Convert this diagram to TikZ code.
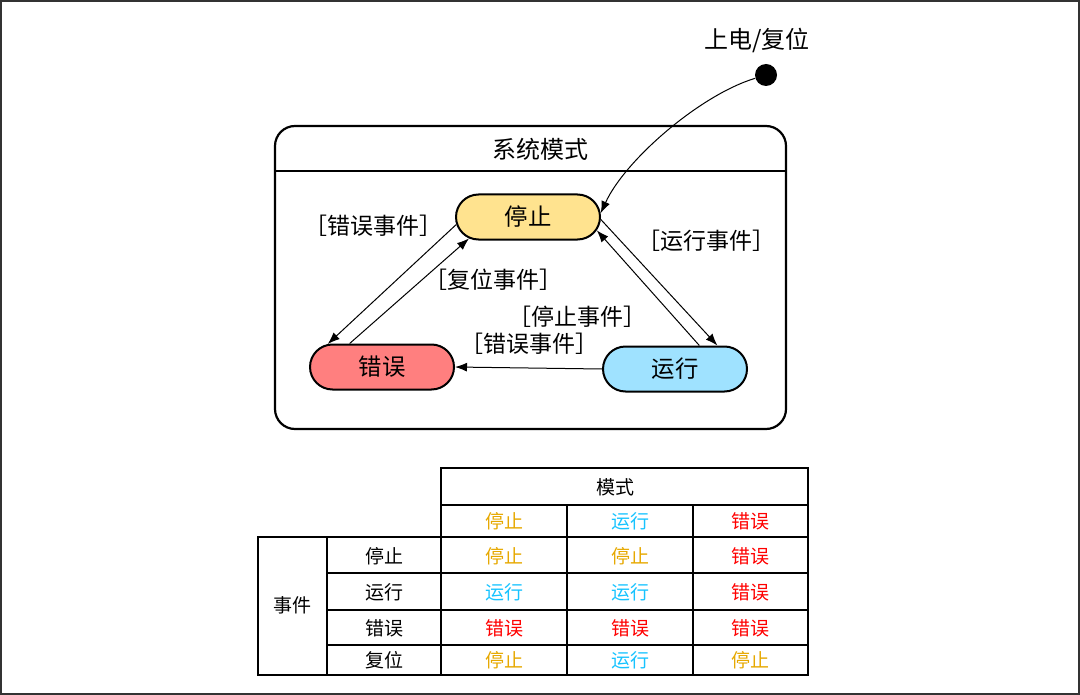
\documentclass[tikz,border=0pt]{standalone}
\usepackage{fontspec}
\setmainfont{Noto Sans CJK SC}
\usetikzlibrary{arrows.meta,shapes.misc}
\definecolor{stopfill}{HTML}{FFE38F}
\definecolor{errfill}{HTML}{FF7F7F}
\definecolor{runfill}{HTML}{9FE2FF}
\definecolor{stoptxt}{HTML}{E6A800}
\definecolor{runtxt}{HTML}{17C3FF}
\definecolor{errtxt}{HTML}{FF0000}
\tikzset{
  statenode/.style={rounded rectangle, draw, line width=1pt, minimum width=72pt,
    minimum height=22.5pt, inner sep=0pt, font=\fontsize{11.7}{13}\selectfont},
  evlabel/.style={inner sep=0pt, font=\fontsize{11.5}{13}\selectfont},
  cell/.style={inner sep=0pt, font=\fontsize{9.5}{11}\selectfont},
  trans/.style={-{Latex[length=6pt,width=4.5pt]}, line width=0.5pt},
  grid/.style={line width=1pt, line cap=rect},
}

\begin{document}
\begin{tikzpicture}[x=0.5pt,y=-0.5pt]
			\useasboundingbox (0,0) rectangle (1080,695);
			\draw[line width=1pt, black!80] (1,1) rectangle (1079,694);
			\draw[line width=1.1pt, rounded corners=10pt] (275,126) rectangle (786,429);
			\draw[line width=1.1pt] (275,171) -- (786,171);
			\node[font=\fontsize{12}{14}\selectfont] (title) at (540,149) {系统模式};
			\node[statenode, fill=stopfill] (stop) at (528,217) {停止};
			\node[statenode, fill=errfill] (err) at (382,367) {错误};
			\node[statenode, fill=runfill] (run) at (675,369) {运行};
			\node[circle, fill, minimum size=11pt, inner sep=0pt] (init) at (766,75) {};
			\node[font=\fontsize{12}{14}\selectfont] (initlabel) at (757,40) {上电/复位};
			\draw[trans] (init) .. controls (700,95) and (625,160) .. (stop.3);
			\draw[trans] (stop.186) -- (err.157);
			\draw[trans] (err.144) -- (stop.200);
			\draw[trans] (stop.358) -- (run.29);
			\draw[trans] (run.44) -- (stop.349);
			\draw[trans] (run.west) -- (err.east);
			\node[evlabel] (lerrA) at (373,226) {［错误事件］};
			\node[evlabel] (lreset) at (493,280) {［复位事件］};
			\node[evlabel] (lrun) at (706,241) {［运行事件］};
			\node[evlabel] (lstop) at (577,317) {［停止事件］};
			\node[evlabel] (lerrB) at (529,344) {［错误事件］};
			\foreach \y/\a in {468/441,505/441,537/258,573/327,610/327,645/327,675/258}{
				\draw[grid] (\a,\y) -- (808,\y);
			}
			\foreach \x/\a in {258/537,327/537,441/468,567/505,693/505,808/468}{
				\draw[grid] (\x,\a) -- (\x,675);
			}
			\node[cell] (mode) at (615,487) {模式};
			\node[cell] (event) at (292,605) {事件};
			\foreach \x/\t/\c in {504/停止/stoptxt,630/运行/runtxt,750/错误/errtxt}{
				\node[cell, text=\c] (head-\x) at (\x,521) {\t};
			}
			\foreach \y/\t in {556/停止,592/运行,628/错误,660/复位}{
				\node[cell] (row-\y) at (384,\y) {\t};
			}
			\foreach \x/\y/\t/\c in {504/556/停止/stoptxt,630/556/停止/stoptxt,750/556/错误/errtxt,
				504/592/运行/runtxt,630/592/运行/runtxt,750/592/错误/errtxt,
				504/628/错误/errtxt,630/628/错误/errtxt,750/628/错误/errtxt,
				504/660/停止/stoptxt,630/660/运行/runtxt,750/660/停止/stoptxt}{
				\node[cell, text=\c] (c-\x-\y) at (\x,\y) {\t};
			}
		\end{tikzpicture}
\end{document}
